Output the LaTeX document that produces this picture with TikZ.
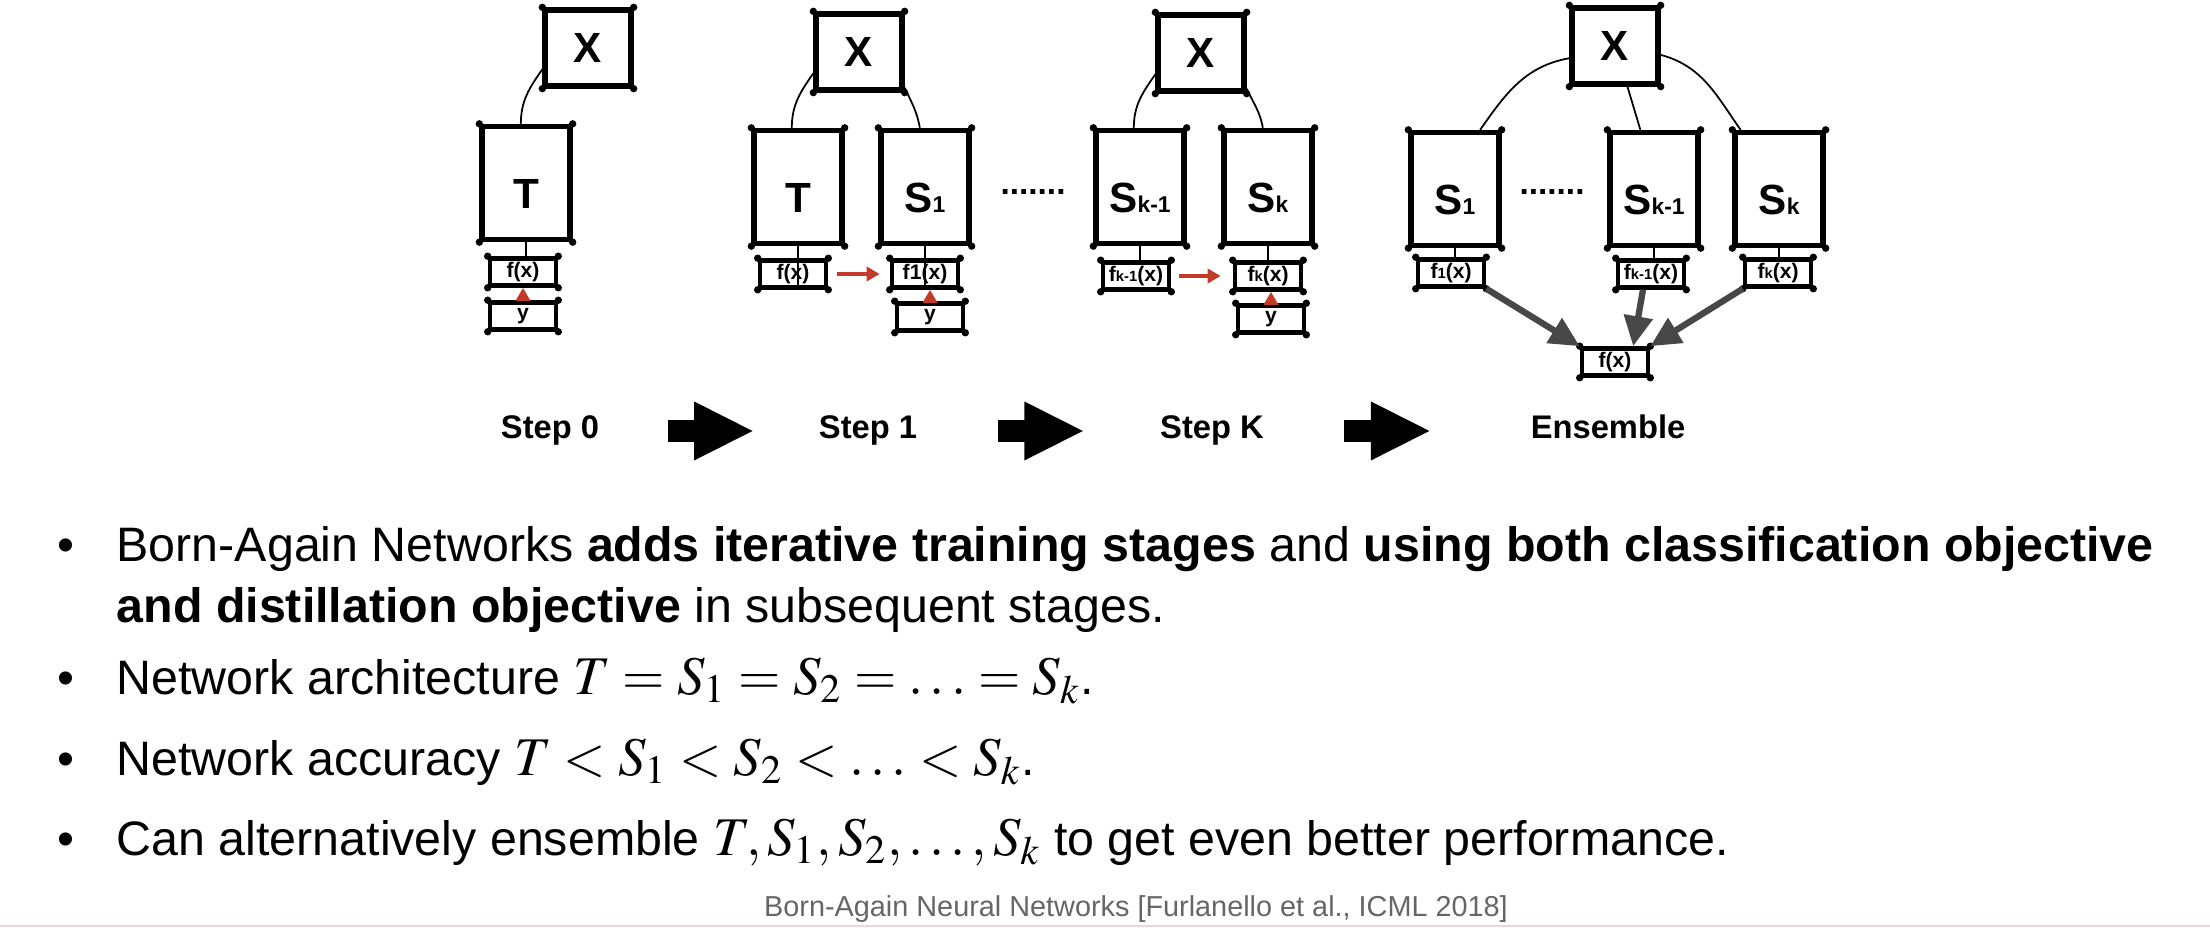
\documentclass[tikz,border=0pt]{standalone}
\usepackage{mathptmx}
\usepackage[no-math]{fontspec}
\setmainfont{Liberation Sans}
\usetikzlibrary{arrows.meta}
\definecolor{gradred}{RGB}{196,58,40}
\definecolor{citegray}{RGB}{102,102,102}
\definecolor{edgepink}{RGB}{236,214,220}
\newcommand{\bigidx}[1]{{\fontsize{6.5pt}{6.5pt}\selectfont #1}}
\newcommand{\tinyidx}[1]{{\fontsize{4.2pt}{4.2pt}\selectfont #1}}
\newcommand{\bigmath}[1]{{\fontsize{15.5pt}{16pt}\selectfont$#1$}}
\begin{document}
\begin{tikzpicture}[x=0.01cm, y=0.01cm,
    cornerdots/.style={append after command={\pgfextra{\foreach \c in {north west,north east,south west,south east}{\fill (\tikzlastnode.\c) circle (1.05pt);}}}},
    inbox/.style={draw, line width=1.5pt, line join=round, minimum width=0.86cm, minimum height=0.76cm, inner sep=0pt, cornerdots, font=\fontsize{12}{12}\selectfont\bfseries},
    netbox/.style={draw, line width=1.5pt, line join=round, minimum width=0.88cm, minimum height=1.13cm, inner sep=0pt, text height=0.5cm, text depth=0pt, cornerdots, font=\fontsize{12}{12}\selectfont\bfseries},
    outbox/.style={draw, line width=1.3pt, line join=round, minimum width=0.66cm, minimum height=0.27cm, inner sep=0pt, cornerdots, font=\fontsize{6}{6}\selectfont\bfseries},
    steplabel/.style={anchor=base, inner sep=0pt, font=\fontsize{9.3}{9.3}\selectfont\bfseries},
    gapdots/.style={inner sep=0pt, font=\fontsize{9.5}{9.5}\selectfont\bfseries},
    link/.style={line width=0.5pt},
    redarrow/.style={-{Triangle[length=0.13cm,width=0.14cm]}, line width=1pt, draw=gradred, color=gradred},
    votearrow/.style={-{Triangle[length=0.3cm,width=0.28cm]}, line width=1.8pt, draw=black!72, color=black!72},
    stagearrow/.style={-{Triangle[length=0.6cm,width=0.54cm]}, line width=0.22cm},
    bulletmark/.style={anchor=base, inner sep=0pt, font=\fontsize{13.75}{16}\selectfont},
    bullettext/.style={anchor=base west, inner sep=0pt, font=\fontsize{13.75}{16}\selectfont},
    citation/.style={inner sep=0pt, text=citegray, font=\fontsize{8.2}{9}\selectfont}
  ]
  \fill[white] (0,0) rectangle (2210,-928);
  \useasboundingbox (0,0) rectangle (2210,-928);

  % step 0
  \node[inbox] (x0) at (588,-48) {X};
  \node[netbox] (t0) at (526,-183) {T};
  \node[outbox] (f0) at (523,-272) {f(x)};
  \node[outbox] (y0) at (523,-316) {y};
  \draw[link] (t0.95) to[out=90,in=235] (x0.205);
  \draw[link] (t0.south) -- (t0.south |- f0.north);
  \draw[redarrow] (y0) -- (f0);

  % step 1
  \node[inbox] (x1) at (859,-52) {X};
  \node[netbox] (t1) at (798,-187) {T};
  \node[netbox] (s1) at (925,-187) {S\bigidx{1}};
  \node[outbox] (ft1) at (793,-274) {f(x)};
  \node[outbox] (fs1) at (925,-274) {f1(x)};
  \node[outbox] (y1) at (930,-317) {y};
  \node[gapdots] (gap1) at (1033,-192) {.......};
  \draw[link] (t1.96) to[out=90,in=235] (x1.205);
  \draw[link] (x1.322) to[out=-65,in=100] (s1.95);
  \draw[link, shorten >=0.05cm] (t1.south) -- (t1.south |- ft1.south);
  \draw[link, shorten >=0.05cm] (s1.south) -- (s1.south |- fs1.south);
  \draw[redarrow, shorten <=0.09cm, shorten >=0.1cm] (ft1) -- (fs1);
  \draw[redarrow] (y1) -- (y1 |- fs1.south);

  % step K
  \node[inbox] (xk) at (1201,-53) {X};
  \node[netbox] (skm) at (1140,-187) {S\bigidx{k-1}};
  \node[netbox] (sk) at (1268,-187) {S\bigidx{k}};
  \node[outbox] (fskm) at (1136,-276) {f\tinyidx{k-1}(x)};
  \node[outbox] (fsk) at (1268,-276) {f\tinyidx{k}(x)};
  \node[outbox] (yk) at (1271,-319) {y};
  \draw[link] (skm.96) to[out=90,in=235] (xk.205);
  \draw[link] (xk.322) to[out=-65,in=100] (sk.95);
  \draw[link] (skm.south) -- (skm.south |- fskm.north);
  \draw[link] (sk.south) -- (sk.south |- fsk.north);
  \draw[redarrow, shorten <=0.08cm, shorten >=0.12cm] (fskm) -- (fsk);
  \draw[redarrow] (yk) -- (yk |- fsk.south);

  % ensemble
  \node[inbox] (xe) at (1615,-46) {X};
  \node[netbox] (se1) at (1455,-189) {S\bigidx{1}};
  \node[gapdots] (gape) at (1552,-192) {.......};
  \node[netbox] (sekm) at (1654,-189) {S\bigidx{k-1}};
  \node[netbox] (sek) at (1779,-189) {S\bigidx{k}};
  \node[outbox] (fe1) at (1451,-273) {f\tinyidx{1}(x)};
  \node[outbox] (fekm) at (1651,-274) {f\tinyidx{k-1}(x)};
  \node[outbox] (fek) at (1778,-273) {f\tinyidx{k}(x)};
  \node[outbox] (fe) at (1615,-362) {f(x)};
  \draw[link] (xe.195) to[out=190,in=55] (se1.67);
  \draw[link] (xe.-73) -- (sekm.103);
  \draw[link] (xe.-11) to[out=-15,in=125] (sek.123);
  \draw[link] (se1.south) -- (se1.south |- fe1.north);
  \draw[link] (sekm.south) -- (sekm.south |- fekm.north);
  \draw[link] (sek.south) -- (sek.south |- fek.north);
  \draw[votearrow] (fe1.south east) -- (fe.north west);
  \draw[votearrow] (fekm.243) -- (fe.41);
  \draw[votearrow] (fek.south west) -- (fe.north east);

  % stage labels
  \node[steplabel] (lab0) at (550,-439) {Step 0};
  \node[steplabel] (lab1) at (868,-439) {Step 1};
  \node[steplabel] (labk) at (1212,-439) {Step K};
  \node[steplabel] (labe) at (1608,-439) {Ensemble};
  \draw[stagearrow, shorten <=0.68cm, shorten >=0.64cm] (lab0.east) -- (lab1.west);
  \draw[stagearrow, shorten <=0.80cm, shorten >=0.75cm] (lab1.east) -- (labk.west);
  \draw[stagearrow, shorten <=0.79cm, shorten >=0.99cm] (labk.east) -- (labk.east -| labe.west);

  % bullets
  \node[bulletmark] (b1) at (66,-561) {•};
  \node[bullettext] (l1) at (116,-561) {Born-Again Networks \textbf{adds iterative training stages} and \textbf{using both classification objective}};
  \node[bullettext] (l1b) at (116,-622) {\textbf{and distillation objective} in subsequent stages.};
  \node[bulletmark] (b2) at (66,-694) {•};
  \node[bullettext] (l2) at (116,-694) {Network architecture \bigmath{T = S_1 = S_2 = \ldots = S_k}.};
  \node[bulletmark] (b3) at (66,-775) {•};
  \node[bullettext] (l3) at (116,-775) {Network accuracy \bigmath{T < S_1 < S_2 < \ldots < S_k}.};
  \node[bulletmark] (b4) at (66,-855) {•};
  \node[bullettext] (l4) at (116,-855) {Can alternatively ensemble \bigmath{T, S_1, S_2, \ldots, S_k} to get even better performance.};
  \node[citation] (cite) at (1136,-909) {Born-Again Neural Networks [Furlanello et al., ICML 2018]};
  \draw[edgepink, line width=0.6pt] (0,-926) -- (2210,-926);
\end{tikzpicture}
\end{document}
